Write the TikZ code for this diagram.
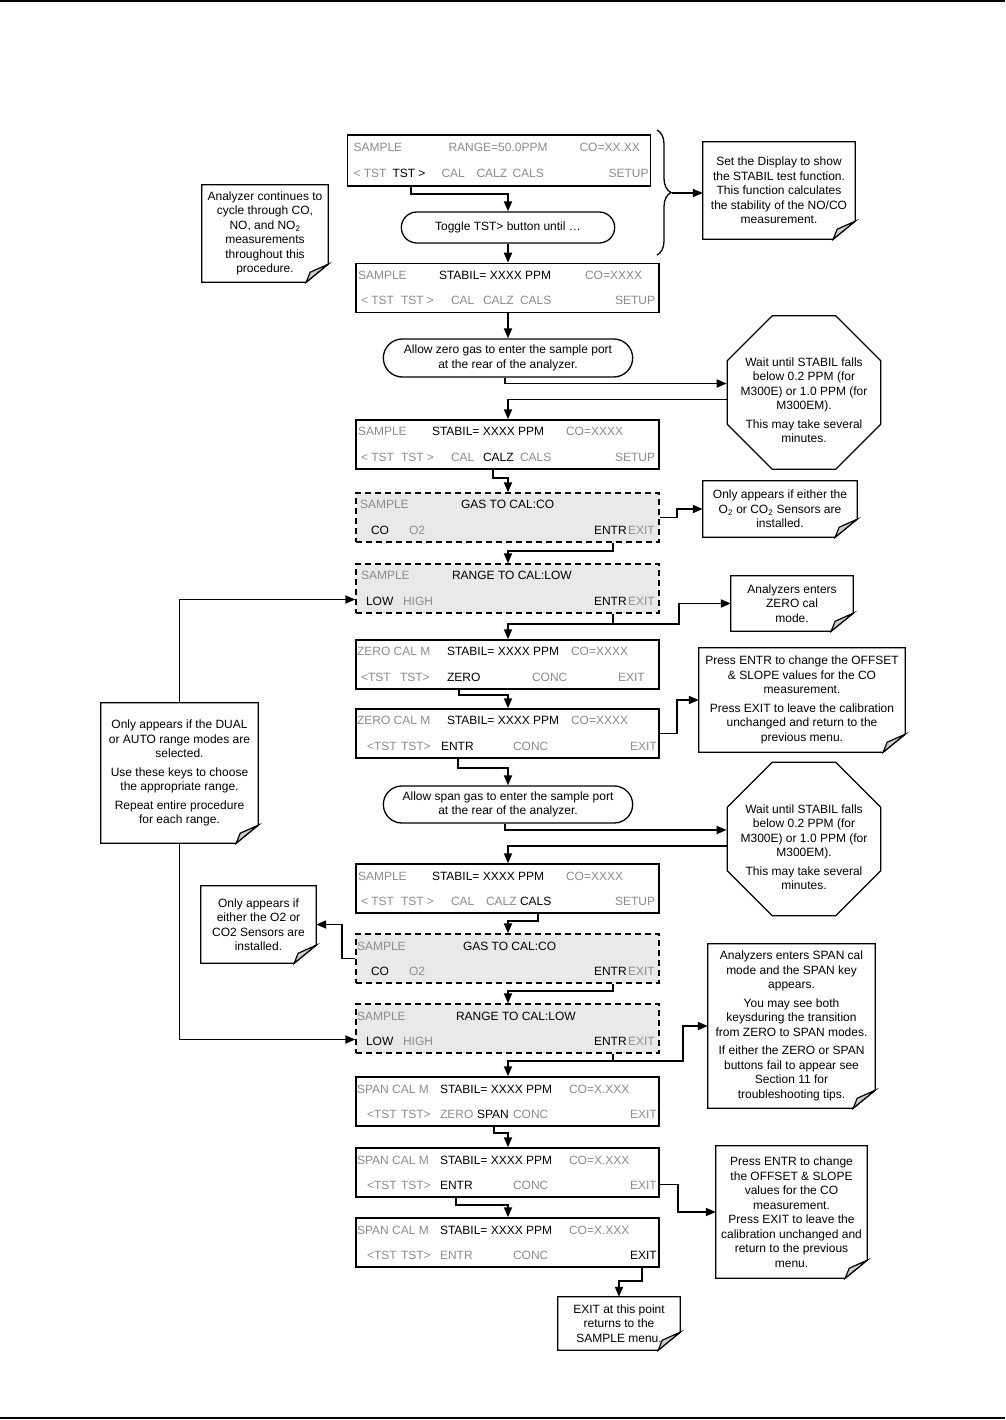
\documentclass[tikz,border=0pt]{standalone}
\usepackage{fontspec}
\setmainfont{Liberation Sans}
\usetikzlibrary{shapes.geometric, shapes.misc, arrows.meta, calc, decorations.pathreplacing}

\definecolor{txtgray}{RGB}{140,140,140}
\definecolor{dispfill}{RGB}{233,233,233}
\definecolor{foldgray}{RGB}{205,205,205}

% display rows: keys placed at fixed offsets from the left edge
\newcommand{\gtx}{\color{txtgray}}
\newcommand{\lab}[2]{\rlap{\hskip #1pt #2}}
\newcommand{\drows}[2]{\parbox[c][49pt][c]{303pt}{\baselineskip=25.5pt
  \hbox to 303pt{\rule{0pt}{8.6pt}#1\hss}
  \hbox to 303pt{#2\hss}}}

% note outline with folded corner
\newcommand{\foldnote}[1]{%
  \draw[notebd] (#1.north west) -- (#1.north east) -- ($(#1.south east)+(0,-18)$) -- ($(#1.south east)+(-22,0)$) -- (#1.south west) -- cycle;
  \draw[notebd, fill=foldgray] ($(#1.south east)+(0,-18)$) -- ($(#1.south east)+(-18,-10)$) -- ($(#1.south east)+(-22,0)$) -- cycle;}

\begin{document}
\begin{tikzpicture}[x=1pt, y=-1pt, font=\fontsize{12}{14.5}\selectfont,
    disp/.style={draw, line width=1.5pt, inner sep=0pt, fill=white},
    dispd/.style={disp, fill=dispfill, line width=1.3pt, dash pattern=on 6pt off 4pt},
    proc/.style={draw, rounded rectangle, line width=1.3pt, align=center, inner ysep=2pt},
    note/.style 2 args={align=center, inner sep=2pt, minimum width=#1pt, minimum height=#2pt},
    notebd/.style={line width=1.2pt, line join=miter},
    octo/.style={draw, regular polygon, regular polygon sides=8, minimum size=166pt, inner sep=0pt, line width=1.3pt},
    octtxt/.style={align=center, inner sep=0pt},
    conn/.style={-{Triangle[length=10pt,width=8pt]}, line width=1.8pt},
    brc/.style={line width=1.3pt}]
  \useasboundingbox (0,0) rectangle (1005,1420);
  \draw[line width=1.5pt] (0,1) -- (1005,1);
  \draw[line width=1.5pt] (0,1418) -- (1005,1418);

  % displays
  \node[disp, minimum height=51pt] (dsamp) at (499,160.5) {\drows{\lab{6}{\gtx SAMPLE}\lab{101}{\gtx RANGE=50.0PPM}\lab{232}{\gtx CO=XX.XX}}{\lab{6}{\gtx < TST}\lab{45}{TST >}\lab{94}{\gtx CAL}\lab{129}{\gtx CALZ}\lab{165}{\gtx CALS}\lab{261}{\gtx SETUP}}};
  \node[disp] (dstab) at (507.5,288) {\drows{\lab{2}{\gtx SAMPLE}\lab{83}{STABIL= XXXX PPM}\lab{229}{\gtx CO=XXXX}}{\lab{5}{\gtx < TST}\lab{45}{\gtx TST >}\lab{95}{\gtx CAL}\lab{127}{\gtx CALZ}\lab{164}{\gtx CALS}\lab{259}{\gtx SETUP}}};
  \node[disp] (dcalz) at (507.5,444.5) {\drows{\lab{2}{\gtx SAMPLE}\lab{76}{STABIL= XXXX PPM}\lab{210}{\gtx CO=XXXX}}{\lab{5}{\gtx < TST}\lab{45}{\gtx TST >}\lab{95}{\gtx CAL}\lab{127}{CALZ}\lab{164}{\gtx CALS}\lab{259}{\gtx SETUP}}};
  \node[dispd] (dgas1) at (507.5,517.5) {\drows{\lab{4}{\gtx SAMPLE}\lab{105}{GAS TO CAL:CO}}{\lab{15}{CO}\lab{53}{\gtx O2}\lab{238}{ENTR}\lab{272}{\gtx EXIT}}};
  \node[dispd] (drng1) at (507.5,588.5) {\drows{\lab{5}{\gtx SAMPLE}\lab{96}{RANGE TO CAL:LOW}}{\lab{10}{LOW}\lab{47}{\gtx HIGH}\lab{238}{ENTR}\lab{272}{\gtx EXIT}}};
  \node[disp] (dzero1) at (507.5,664.5) {\drows{\lab{1}{\gtx ZERO CAL M}\lab{91}{STABIL= XXXX PPM}\lab{215}{\gtx CO=XXXX}}{\lab{5}{\gtx <TST}\lab{44}{\gtx TST>}\lab{91}{ZERO}\lab{176}{\gtx CONC}\lab{262}{\gtx EXIT}}};
  \node[disp] (dzero2) at (507.5,733.5) {\drows{\lab{1}{\gtx ZERO CAL M}\lab{91}{STABIL= XXXX PPM}\lab{215}{\gtx CO=XXXX}}{\lab{11}{\gtx <TST}\lab{45}{\gtx TST>}\lab{85}{ENTR}\lab{157}{\gtx CONC}\lab{274}{\gtx EXIT}}};
  \node[disp] (dcals) at (507.5,888.5) {\drows{\lab{2}{\gtx SAMPLE}\lab{76}{STABIL= XXXX PPM}\lab{210}{\gtx CO=XXXX}}{\lab{5}{\gtx < TST}\lab{45}{\gtx TST >}\lab{95}{\gtx CAL}\lab{130}{\gtx CALZ}\lab{164}{CALS}\lab{259}{\gtx SETUP}}};
  \node[dispd] (dgas2) at (507.5,958.5) {\drows{\lab{1}{\gtx SAMPLE}\lab{107}{GAS TO CAL:CO}}{\lab{15}{CO}\lab{53}{\gtx O2}\lab{238}{ENTR}\lab{272}{\gtx EXIT}}};
  \node[dispd] (drng2) at (507.5,1028.5) {\drows{\lab{1}{\gtx SAMPLE}\lab{100}{RANGE TO CAL:LOW}}{\lab{10}{LOW}\lab{47}{\gtx HIGH}\lab{238}{ENTR}\lab{272}{\gtx EXIT}}};
  \node[disp] (dspan1) at (507.5,1101.5) {\drows{\lab{1}{\gtx SPAN CAL M}\lab{84}{STABIL= XXXX PPM}\lab{213}{\gtx CO=X.XXX}}{\lab{11}{\gtx <TST}\lab{45}{\gtx TST>}\lab{84}{\gtx ZERO}\lab{121}{SPAN}\lab{157}{\gtx CONC}\lab{274}{\gtx EXIT}}};
  \node[disp] (dspan2) at (507.5,1172.5) {\drows{\lab{1}{\gtx SPAN CAL M}\lab{84}{STABIL= XXXX PPM}\lab{213}{\gtx CO=X.XXX}}{\lab{11}{\gtx <TST}\lab{45}{\gtx TST>}\lab{84}{ENTR}\lab{157}{\gtx CONC}\lab{274}{\gtx EXIT}}};
  \node[disp] (dspan3) at (507.5,1242.5) {\drows{\lab{1}{\gtx SPAN CAL M}\lab{84}{STABIL= XXXX PPM}\lab{213}{\gtx CO=X.XXX}}{\lab{11}{\gtx <TST}\lab{45}{\gtx TST>}\lab{84}{\gtx ENTR}\lab{157}{\gtx CONC}\lab{274}{EXIT}}};

  % process steps
  \node[proc, minimum width=220pt, minimum height=31pt] (ptoggle) at (508,227.5) {Toggle TST> button until …};
  \node[proc, minimum width=256pt, minimum height=38pt] (pzero) at (508,358) {Allow zero gas to enter the sample port\\at the rear of the analyzer.};
  \node[proc, minimum width=256pt, minimum height=37pt] (pspan) at (508,804.5) {Allow span gas to enter the sample port\\at the rear of the analyzer.};

  % wait octagons
  \node[octo] (wzero) at (804,392.5) {};
  \node[octtxt] (wzerot) at (804,400) {Wait until STABIL falls\\below 0.2 PPM (for\\M300E) or 1.0 PPM (for\\M300EM).\\[4pt]This may take several\\minutes.};
  \node[octo] (wspan) at (804,839) {};
  \node[octtxt] (wspant) at (804,847) {Wait until STABIL falls\\below 0.2 PPM (for\\M300E) or 1.0 PPM (for\\M300EM).\\[4pt]This may take several\\minutes.};

  % notes
  \node[note={152}{97}] (nstabil) at (779,190.5) {Set the Display to show\\the STABIL test function.\\This function calculates\\the stability of the NO/CO\\measurement.};
  \node[note={126}{97}] (ncycle) at (265,233.5) {Analyzer continues to\\cycle through CO,\\NO, and NO\textsubscript{2}\\measurements\\throughout this\\procedure.};
  \node[note={154}{56}] (no2a) at (780,509) {Only appears if either the\\O\textsubscript{2} or CO\textsubscript{2} Sensors are\\installed.};
  \node[note={122}{55}] (nzero) at (792,603.5) {Analyzers enters\\ZERO cal\\mode.};
  \node[note={206}{104}] (nentr1) at (802,700) {Press ENTR to change the OFFSET\\\& SLOPE values for the CO\\measurement.\\[4pt]Press EXIT to leave the calibration\\unchanged and return to the\\previous menu.};
  \node[note={157}{140}] (ndual) at (179.5,773) {Only appears if the DUAL\\or AUTO range modes are\\selected.\\[4pt]Use these keys to choose\\the appropriate range.\\[4pt]Repeat entire procedure\\for each range.};
  \node[note={115}{77}] (no2b) at (258.5,924.5) {Only appears if\\either the O2 or\\CO2 Sensors are\\installed.};
  \node[note={167}{164}] (nspan) at (791.5,1026) {Analyzers enters SPAN cal\\mode and the SPAN key\\appears.\\[4pt]You may see both\\keysduring the transition\\from ZERO to SPAN modes.\\[4pt]If either the ZERO or SPAN\\buttons fail to appear see\\Section 11 for\\troubleshooting tips.};
  \node[note={151}{132}] (nentr2) at (791.5,1212) {Press ENTR to change\\the OFFSET \& SLOPE\\values for the CO\\measurement.\\Press EXIT to leave the\\calibration unchanged and\\return to the previous\\menu.};
  \node[note={122}{53}] (nexit) at (619,1323.5) {EXIT at this point\\returns to the\\SAMPLE menu.};
  \foldnote{nstabil} \foldnote{ncycle} \foldnote{no2a} \foldnote{nzero} \foldnote{nentr1}
  \foldnote{ndual} \foldnote{no2b} \foldnote{nspan} \foldnote{nentr2} \foldnote{nexit}

  % brace round the first steps
  \draw[brc, decorate, decoration={brace, amplitude=14pt}] (657,130) -- (657,255);
  \coordinate (btip) at (672,193);
  \draw[conn] (btip) -- (btip -| nstabil.west);

  % main flow
  \draw[conn] ($(dsamp.south west)+(64,0)$) -- ++(0,7) -| (ptoggle.north);
  \draw[conn] (ptoggle.south) -- (ptoggle.south |- dstab.north);
  \draw[conn] (dstab.south -| pzero.north) -- (pzero.north);
  \draw[conn] ($(pzero.south)+(-3,0)$) |- ($(wzero.west)+(0,-9)$);
  \draw[conn] ($(wzero.west)+(0,7)$) -| ($(dcalz.north)+(0.5,0)$);
  \draw[conn] ($(dcalz.south west)+(138,0)$) -- ++(0,8) -| ($(dgas1.north)+(0.5,0)$);
  \draw[conn] (dgas1.east) -- ++(17,0) |- (no2a.west);
  \draw[conn] ($(dgas1.south west)+(258,0)$) -- ++(0,8) -| ($(drng1.north)+(0.5,0)$);
  \draw[conn] ($(drng1.south west)+(258,0)$) -- ++(0,10) -| ($(dzero1.north)+(0.5,0)$);
  \draw[conn] ($(drng1.south west)+(258,10)$) -- ++(66,0) |- (nzero.west);
  \draw[conn] ($(dzero1.south west)+(104,0)$) -- ++(0,5) -| ($(dzero2.north)+(0.5,0)$);
  \draw[conn] (dzero2.east) -- ++(17,0) |- (nentr1.west);
  \draw[conn] ($(dzero2.south west)+(103,0)$) -- ++(0,9) -| (pspan.north);
  \draw[conn] ($(pspan.south)+(-3,0)$) |- ($(wspan.west)+(0,-9)$);
  \draw[conn] ($(wspan.west)+(0,7)$) -| ($(dcals.north)+(0.5,0)$);
  \draw[conn] ($(dcals.south west)+(183,0)$) -- ++(0,7) -| ($(dgas2.north)+(0.5,0)$);
  \draw[conn] (dgas2.west) -- ++(-13,0) |- (no2b.east);
  \draw[conn] ($(dgas2.south west)+(258,0)$) -- ++(0,7) -| ($(drng2.north)+(0.5,0)$);
  \draw[conn] ($(drng2.south west)+(258,0)$) -- ++(0,7) -| ($(dspan1.north)+(0.5,0)$);
  \draw[conn] ($(drng2.south west)+(258,7)$) -- ++(70,0) |- (nspan.west);
  \draw[conn] ($(dspan1.south west)+(139,0)$) -- ++(0,6) -| ($(dspan2.north)+(0.5,0)$);
  \draw[conn] ($(dspan2.east)+(0,12)$) -- ++(18,0) |- (nentr2.west);
  \draw[conn] ($(dspan2.south west)+(101,0)$) -- ++(0,7) -| ($(dspan3.north)+(0.5,0)$);
  \draw[conn] ($(dspan3.south west)+(287,0)$) -- ++(0,13) -| (nexit.north);

  % range keys
  \draw[conn] (ndual.north) |- ($(drng1.west)+(0,11)$);
  \draw[conn] (ndual.south) |- ($(drng2.west)+(0,11)$);
\end{tikzpicture}
\end{document}
